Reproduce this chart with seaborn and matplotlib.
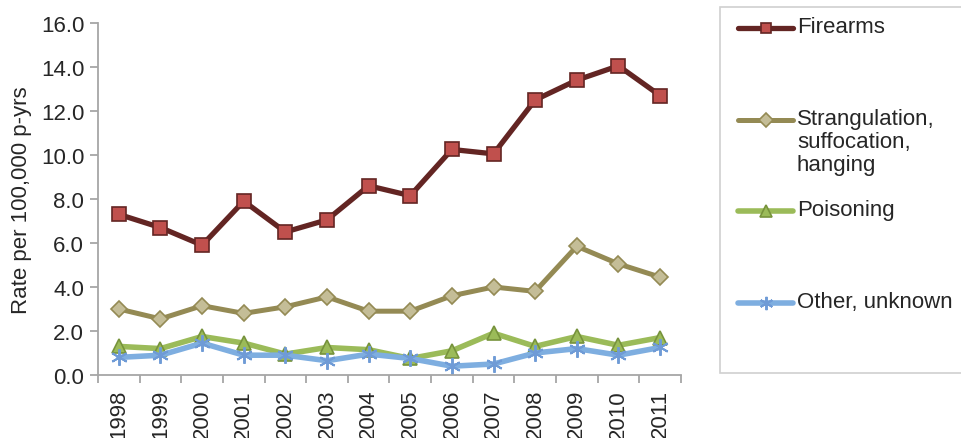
import matplotlib
matplotlib.use("Agg")
import matplotlib.pyplot as plt
from matplotlib.lines import Line2D
from matplotlib.patches import Rectangle
import numpy as np
import pandas as pd
import seaborn as sns

years = ["1998", "1999", "2000", "2001", "2002", "2003", "2004",
         "2005", "2006", "2007", "2008", "2009", "2010", "2011"]
firearms = [7.3, 6.7, 5.9, 7.9, 6.5, 7.05, 8.6, 8.15, 10.25, 10.05, 12.5, 13.4, 14.05, 12.7]
strangulation = [3.0, 2.55, 3.15, 2.8, 3.1, 3.55, 2.9, 2.9, 3.6, 4.0, 3.8, 5.85, 5.05, 4.45]
poisoning = [1.3, 1.2, 1.75, 1.45, 0.95, 1.25, 1.15, 0.75, 1.1, 1.9, 1.3, 1.75, 1.35, 1.7]
other = [0.8, 0.9, 1.45, 0.9, 0.9, 0.65, 0.95, 0.75, 0.4, 0.5, 1.0, 1.2, 0.9, 1.25]

series_names = ["Firearms", "Strangulation,\nsuffocation,\nhanging", "Poisoning", "Other, unknown"]
series_values = [firearms, strangulation, poisoning, other]
y_ticks = [0, 2, 4, 6, 8, 10, 12, 14, 16]

styles = [
    dict(color="#632523", marker="s", markerfacecolor="#C0504D", markeredgecolor="#632523",
         markersize=9.5, markeredgewidth=1.2, linewidth=3.8),
    dict(color="#948A54", marker="D", markerfacecolor="#C4BD97", markeredgecolor="#948A54",
         markersize=8.5, markeredgewidth=1.2, linewidth=3.6),
    dict(color="#9BBB59", marker="^", markerfacecolor="#9BBB59", markeredgecolor="#77933C",
         markersize=10.5, markeredgewidth=1.2, linewidth=4.0),
    dict(color="#7EAEE0", marker=(6, 2, 0), markerfacecolor="#7EAEE0", markeredgecolor="#6F9BD6",
         markersize=12, markeredgewidth=1.4, linewidth=4.0),
]

sns.set_theme(style="white")
plt.rcParams["font.family"] = ["Liberation Sans", "DejaVu Sans"]
text_color = "#262626"
axis_gray = "#A6A6A6"
fs = 16

fig = plt.figure(figsize=(9.61, 4.39), dpi=100)
ax = fig.add_axes([0.102, 0.1435, 0.6065, 0.802])

x = np.arange(len(years))
for name, vals, st in zip(series_names, series_values, styles):
    df = pd.DataFrame({"x": x, "rate": vals})
    sns.lineplot(data=df, x="x", y="rate", ax=ax, legend=False,
                 markers=False, dashes=False, **st)

ax.set_xlim(-0.5, len(years) - 0.5)
ax.set_ylim(0, 16)
ax.set_yticks(y_ticks)
ax.set_yticklabels([f"{v:.1f}" for v in y_ticks], fontsize=fs, color=text_color)
ax.set_xticks(x)
ax.set_xticklabels(years, rotation=90, fontsize=fs, color=text_color)
ax.set_xticks(np.arange(-0.5, len(years), 1.0), minor=True)
ax.tick_params(axis="x", which="major", bottom=True, length=0, pad=10)
ax.tick_params(axis="x", which="minor", bottom=True, length=6, width=1.3,
               color=axis_gray, direction="out")
ax.tick_params(axis="y", left=True, length=6, width=1.3, color=axis_gray,
               direction="out", pad=4)
ax.set_xlabel("")
ax.set_ylabel("Rate per 100,000 p-yrs", fontsize=fs, color=text_color, labelpad=6)

for side in ["top", "right"]:
    ax.spines[side].set_visible(False)
for side in ["left", "bottom"]:
    ax.spines[side].set_color(axis_gray)
    ax.spines[side].set_linewidth(1.3)
ax.grid(False)

# Legend panel drawn in figure coordinates; its right edge runs off the canvas
W, H = 961, 439
def fx(px):
    return px / W
def fy(py):
    return 1 - py / H

fig.add_artist(Rectangle((fx(720), fy(374)), fx(1010) - fx(720), fy(8) - fy(374),
                         transform=fig.transFigure, facecolor="white",
                         edgecolor="#D0D0D0", linewidth=1.2, clip_on=False))
legend_y = [29, 121, 212, 304]
for name, st, ly in zip(series_names, styles, legend_y):
    line_st = {k: v for k, v in st.items() if not k.startswith("marker")}
    mark_st = {k: v for k, v in st.items() if k != "linewidth"}
    mark_st["markersize"] = st["markersize"] * 0.8
    fig.add_artist(Line2D([fx(738), fx(793)], [fy(ly), fy(ly)], transform=fig.transFigure,
                          solid_capstyle="round", **line_st))
    fig.add_artist(Line2D([fx(765.5)], [fy(ly)], transform=fig.transFigure,
                          linestyle="none", **mark_st))
    fig.text(fx(797), fy(ly - 12), name, fontsize=fs, color=text_color, va="top",
             ha="left", linespacing=1.12, transform=fig.transFigure)

fig.savefig("out.png", dpi=100)
